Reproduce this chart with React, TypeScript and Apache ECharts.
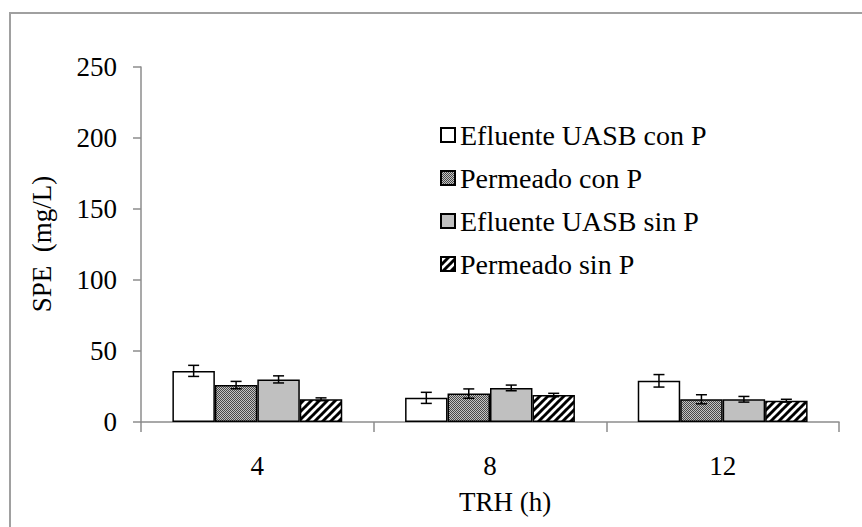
import React, { useEffect, useRef } from "react";
import * as echarts from "echarts";

const categories = ["4", "8", "12"];
const seriesNames = ["Efluente UASB con P", "Permeado con P", "Efluente UASB sin P", "Permeado sin P"];
const efluenteConP = [36, 17, 29];
const permeadoConP = [26, 20, 16];
const efluenteSinP = [30, 24, 16];
const permeadoSinP = [16, 19, 15];
const errEfluenteConP = [3.9, 3.9, 4.4];
const errPermeadoConP = [2.6, 3.3, 3.2];
const errEfluenteSinP = [2.5, 2, 2];
const errPermeadoSinP = [1, 1.2, 1];
const yTicks = [0, 50, 100, 150, 200, 250];

const FONT = "'Liberation Serif', 'Times New Roman', serif";
const CAT_GAP = 0.27;

function checkerCanvas() {
  const c = document.createElement("canvas");
  c.width = 2;
  c.height = 2;
  const ctx = c.getContext("2d")!;
  ctx.fillStyle = "#c4c4c4";
  ctx.fillRect(0, 0, 2, 2);
  ctx.fillStyle = "#484848";
  ctx.fillRect(0, 0, 1, 1);
  ctx.fillRect(1, 1, 1, 1);
  return c;
}

function stripeCanvas() {
  const s = 8;
  const c = document.createElement("canvas");
  c.width = s;
  c.height = s;
  const ctx = c.getContext("2d")!;
  ctx.fillStyle = "#ffffff";
  ctx.fillRect(0, 0, s, s);
  ctx.strokeStyle = "#000000";
  ctx.lineWidth = 3;
  for (let k = -1; k <= 1; k++) {
    ctx.beginPath();
    ctx.moveTo(k * s - 1, s + 1);
    ctx.lineTo(k * s + s + 1, -1);
    ctx.stroke();
  }
  return c;
}

export default function App() {
  const ref = useRef<HTMLDivElement>(null);
  useEffect(() => {
    if (!ref.current) return;
    const chart = echarts.init(ref.current, null, { renderer: "svg" });
    const values = [efluenteConP, permeadoConP, efluenteSinP, permeadoSinP];
    const errs = [errEfluenteConP, errPermeadoConP, errEfluenteSinP, errPermeadoSinP];
    const fills: any[] = [
      "#ffffff",
      { image: checkerCanvas(), repeat: "repeat" },
      "#c0c0c0",
      { image: stripeCanvas(), repeat: "repeat" },
    ];
    const errData: any[] = [];
    values.forEach((arr, si) => {
      arr.forEach((v, ci) => errData.push([ci, v, errs[si][ci], si]));
    });
    const barSeries = seriesNames.map((name, si) => ({
      name,
      type: "bar",
      data: values[si],
      barGap: "0%",
      barCategoryGap: CAT_GAP * 100 + "%",
      itemStyle: { color: fills[si], borderColor: "#000", borderWidth: 1.5 },
    }));
    chart.setOption({
      animation: false,
      textStyle: { fontFamily: FONT },
      grid: { left: 141, right: 23, top: 67, bottom: 105, containLabel: false },
      legend: {
        orient: "vertical",
        left: 435,
        top: 116,
        itemWidth: 14,
        itemHeight: 14,
        itemGap: 15,
        icon: "rect",
        data: seriesNames,
        textStyle: { fontFamily: FONT, fontSize: 28, color: "#000", fontWeight: "normal" },
      },
      xAxis: {
        type: "category",
        data: categories,
        axisLine: { lineStyle: { color: "#8c8c8c", width: 1.5 } },
        axisTick: { show: true, length: 10, lineStyle: { color: "#8c8c8c", width: 1.5 } },
        axisLabel: { fontFamily: FONT, fontSize: 27, color: "#000", margin: 30 },
      },
      yAxis: {
        type: "value",
        min: yTicks[0],
        max: yTicks[yTicks.length - 1],
        interval: 50,
        splitLine: { show: false },
        axisLine: { show: true, lineStyle: { color: "#8c8c8c", width: 1.5 } },
        axisTick: { show: true, length: 8, lineStyle: { color: "#8c8c8c", width: 1.5 } },
        axisLabel: { fontFamily: FONT, fontSize: 27, color: "#000", margin: 24 },
      },
      graphic: [
        {
          type: "rect",
          shape: { x: 10, y: 13, width: 900, height: 600 },
          style: { fill: "none", stroke: "#a0a0a0", lineWidth: 2 },
          silent: true,
        },
        {
          type: "text",
          x: 42,
          y: 244,
          rotation: Math.PI / 2,
          style: {
            text: "SPE  (mg/L)",
            fontFamily: FONT,
            fontSize: 27,
            fill: "#000",
            align: "center",
            verticalAlign: "middle",
          },
        },
        {
          type: "text",
          x: 505,
          y: 502,
          style: {
            text: "TRH (h)",
            fontFamily: FONT,
            fontSize: 27,
            fill: "#000",
            align: "center",
            verticalAlign: "middle",
          },
        },
      ],
      series: [
        ...barSeries,
        {
          type: "custom",
          z: 10,
          silent: true,
          data: errData,
          renderItem: (params: any, api: any) => {
            const ci = api.value(0);
            const v = api.value(1);
            const e = api.value(2);
            const si = api.value(3);
            const base = api.coord([ci, v]);
            const cw = api.size([1, 0])[0];
            const bw = (cw * (1 - CAT_GAP)) / 4;
            const x = base[0] - 2 * bw + (si + 0.5) * bw;
            const yT = api.coord([ci, v + e])[1];
            const yB = api.coord([ci, v - e])[1];
            const hw = 5.5;
            const st = { stroke: "#000", lineWidth: 1.5 };
            return {
              type: "group",
              children: [
                { type: "line", shape: { x1: x, y1: yT, x2: x, y2: yB }, style: st },
                { type: "line", shape: { x1: x - hw, y1: yT, x2: x + hw, y2: yT }, style: st },
                { type: "line", shape: { x1: x - hw, y1: yB, x2: x + hw, y2: yB }, style: st },
              ],
            };
          },
        },
      ],
    });
    return () => chart.dispose();
  }, []);
  return (
    <div
      ref={ref}
      style={{ position: "fixed", left: 0, top: 0, width: 862, height: 527, background: "#fff" }}
    />
  );
}
